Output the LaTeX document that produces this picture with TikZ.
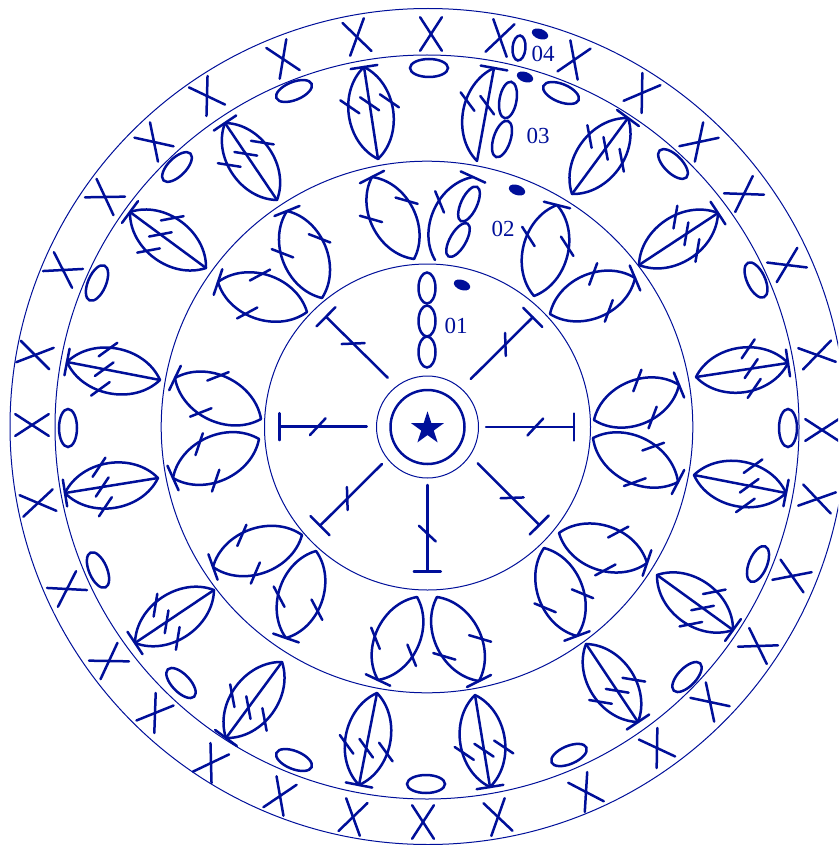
\documentclass[tikz,border=0pt]{standalone}
\usepackage{fontspec}
\setmainfont{Liberation Serif}
\usetikzlibrary{shapes.geometric}

\definecolor{yarn}{RGB}{0,15,153}

\newcommand{\measure}[4]{%
  \pgfmathsetmacro\leaflen{veclen(#3-#1,#4-#2)}%
  \pgfmathsetmacro\leafrot{atan2(#2-#4,#3-#1)}}
\newcommand{\barend}{\draw[stitch] (\leaflen,-13.5) -- (\leaflen,13.5);}
\newcommand{\tickat}[2]{\draw[stitch] (#1,#2) +(-47:11.5) -- +(133:11.5);}
\newcommand{\leafstem}{\draw[stitch] (0,0) -- (\leaflen,0); \tickat{0.6*\leaflen}{0}}
\newcommand{\leafleft}{\draw[stitch] (0,0) to[bend left=55] (\leaflen,0); \barend \tickat{0.6*\leaflen}{-20}}
\newcommand{\leafright}{\draw[stitch] (0,0) to[bend right=55] (\leaflen,0); \tickat{0.6*\leaflen}{20}}

\tikzset{
  stitch/.style={draw=yarn, line width=2.5pt, line cap=round},
  ring/.style={draw=yarn, line width=1pt},
  dot/.style={fill=yarn, draw=none},
  rowlabel/.style={text=yarn, font=\fontsize{23}{25}\selectfont, inner sep=0pt},
}

\begin{document}
\begin{tikzpicture}[x=1pt, y=-1pt]
  \useasboundingbox (0,0) rectangle (838,845);
  \clip (0,0) rectangle (838,845);

  % rings
  \draw[ring] (427.5,427) circle (51);
  \draw[ring] (427.5,427) circle (163);
  \draw[ring] (427,427) circle (265.8);
  \draw[ring] (427,427) circle (372);
  \draw[ring] (428,426.5) circle (418);

  % centre
  \draw[stitch] (427.5,427) circle (37);
  \node[star, star points=5, star point ratio=2.618, dot, minimum size=34.5pt, inner sep=0pt, outer sep=0pt] (centre) at (427.5,428.5) {};

  % round 1
  \foreach \bx/\by/\tx/\ty in {486/427/574/427, 470.7/379/532.7/317.3, 387.7/377.7/326/316.7,
      366.7/426.7/279.3/426.7, 382/464/320/525.7, 427.3/485/427.3/571.7, 477.7/463.3/539.3/525}{
    \measure{\bx}{\by}{\tx}{\ty}
    \begin{scope}[shift={(\bx,\by)}, rotate=\leafrot]
      \draw[stitch] (0,0) -- (\leaflen,0);
      \barend
      \tickat{0.56*\leaflen}{0}
    \end{scope}
  }
  \foreach \cy in {288,321,352}
    \draw[stitch] (427,\cy) ellipse (8.5 and 15.5);

  % round 2
  \foreach \bx/\by/\tx/\ty in {594/420/679/385, 593/438/678/482, 550/314/635/278, 534/296/557/205,
      414/259/372/177, 322/298/287/211, 307/312/218/282, 261/419/175/378, 259/439/173/478,
      302/535/213/567, 316/551/286/638, 417/597/378/680, 437/597/479/681, 544/548/577/636, 559/533/647/563}{
    \measure{\bx}{\by}{\tx}{\ty}
    \begin{scope}[shift={(\bx,\by)}, rotate=\leafrot]
      \leafleft
      \leafright
    \end{scope}
  }
  \measure{435}{260}{473}{177}
  \begin{scope}[shift={(435,260)}, rotate=\leafrot]
    \leafleft
  \end{scope}
  \draw[stitch, rotate around={65:(469,204)}] (469,204) ellipse (19 and 8);
  \draw[stitch, rotate around={60:(458,240)}] (458,240) ellipse (19 and 8);

  % round 3
  \foreach \bx/\by/\tx/\ty in {696/377/788/363, 694/475/786/493, 639/265/718/213, 572/194/628/118,
      378/159/364/67, 277/200/225/123, 206/268/130/212, 160/380/67/362, 158/478/65/493,
      214/590/135/643, 282/662/226/738, 377/693/359/785, 475/695/490/787, 586/644/638/722, 657/575/733/630}{
    \measure{\bx}{\by}{\tx}{\ty}
    \begin{scope}[shift={(\bx,\by)}, rotate=\leafrot]
      \leafstem
      \leafleft
      \leafright
    \end{scope}
  }
  \measure{477}{161}{494}{68}
  \begin{scope}[shift={(477,161)}, rotate=\leafrot]
    \leafstem
    \leafleft
  \end{scope}
  \draw[stitch, rotate around={80:(508,100)}] (508,100) ellipse (18.5 and 8.5);
  \draw[stitch, rotate around={72:(502,139)}] (502,139) ellipse (19 and 8.5);
  \foreach \cx/\cy/\r in {429/68/0, 561/93/-22, 673/164/-45, 756/280/-65, 788/428/90, 758/564/67.5,
      687/677/46, 569/755/23, 426/784/0, 294/760/-22, 181/683/-46, 98/570/-67, 68/428/90, 97/283/67,
      177/167/45, 294/91/22}{
    \begin{scope}[shift={(\cx,\cy)}, rotate=\r]
      \draw[stitch] (0,0) ellipse (19 and 9);
    \end{scope}
  }

  % round 4
  \foreach \cx/\cy/\r in {431/34/90, 500/38/76.5, 574/60/67.5, 642/93/56, 699/142/45, 744/194/31,
      787/265/26, 817/355/13, 822/430/0, 817/499/-13.5, 792/576/-22, 758/646/-31, 710/702/-45,
      657/748/-58, 586/792/-60.5, 498/817/-76.5, 423/822/90, 353/817/77, 280/796/67, 211/763/58.5,
      155/713/55, 109/661/32, 67/589/30, 38/503/10, 32/425/0, 35/355/-12, 63/270/-30, 105/197/-32,
      154/142/-45.5, 207/96/-58.5, 283/59/-66.5, 357/37/-77}{
    \begin{scope}[shift={(\cx,\cy)}, rotate=\r]
      \draw[stitch] (33:20) -- (213:20);
      \draw[stitch] (-33:20) -- (147:20);
    \end{scope}
  }
  \draw[stitch, rotate around={85:(519,48)}] (519,48) ellipse (12.5 and 6.5);

  % markers and labels
  \foreach \cx/\cy in {462/285, 517/190, 525/77, 540/34}
    \fill[dot, rotate around={-20:(\cx,\cy)}] (\cx,\cy) ellipse (8.5 and 5);
  \node[rowlabel] (row01) at (456,326) {01};
  \node[rowlabel] (row02) at (503,229) {02};
  \node[rowlabel] (row03) at (538,136) {03};
  \node[rowlabel] (row04) at (543,54) {04};
\end{tikzpicture}
\end{document}
